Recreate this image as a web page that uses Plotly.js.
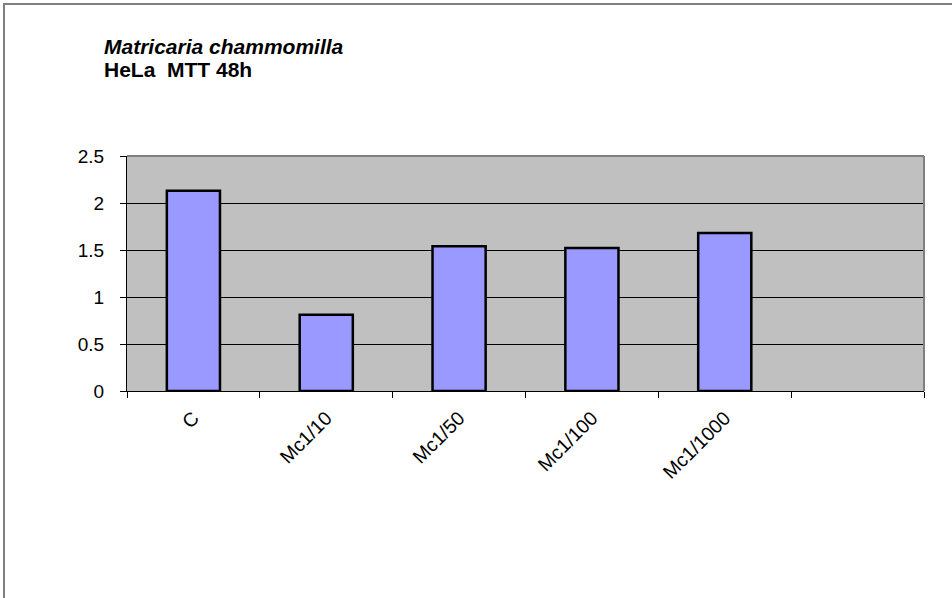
<!DOCTYPE html>
<html>
<head>
<meta charset="utf-8">
<script src="https://cdn.plot.ly/plotly-3.0.1.min.js"></script>
<style>
html,body{margin:0;padding:0;background:#fff;}
#chart{width:952px;height:598px;}
#frame{position:absolute;left:3px;top:3px;width:960px;height:610px;border-left:2px solid #808080;border-top:2px solid #808080;pointer-events:none;}
</style>
</head>
<body>
<div id="chart"></div>
<div id="frame"></div>
<script>
var categories = ['C', 'Mc1/10', 'Mc1/50', 'Mc1/100', 'Mc1/1000'];
var values = [2.13, 0.81, 1.54, 1.52, 1.68];
var axisSlots = ['C', 'Mc1/10', 'Mc1/50', 'Mc1/100', 'Mc1/1000', ' '];
var yTicks = [0, 0.5, 1, 1.5, 2, 2.5];
var yTickText = ['0', '0.5', '1', '1.5', '2', '2.5'];
var titleLine1 = 'Matricaria chammomilla';
var titleLine2 = 'HeLa\u00A0\u00A0MTT 48h';

var trace = {
  type: 'bar',
  x: categories,
  y: values,
  marker: {color: '#9999FF', line: {color: '#000000', width: 2.5}},
  hoverinfo: 'x+y'
};

var titleFont = {family: 'Liberation Sans, Arial, sans-serif', size: 21, color: '#000'};

var layout = {
  width: 952,
  height: 598,
  paper_bgcolor: '#ffffff',
  plot_bgcolor: '#C0C0C0',
  margin: {l: 127, r: 28, t: 156, b: 207, pad: 0},
  showlegend: false,
  bargap: 0.6,
  font: {family: 'Liberation Sans, Arial, sans-serif', color: '#000', size: 16},
  annotations: [
    {text: '<b><i>' + titleLine1 + '</i></b>', xref: 'paper', yref: 'paper',
     x: (102 - 127) / 797, y: (391 - 46) / 235, xanchor: 'left', yanchor: 'middle',
     showarrow: false, font: titleFont},
    {text: '<b>' + titleLine2 + '</b>', xref: 'paper', yref: 'paper',
     x: (102 - 127) / 797, y: (391 - 69) / 235, xanchor: 'left', yanchor: 'middle',
     showarrow: false, font: titleFont}
  ],
  xaxis: {
    type: 'category',
    categoryorder: 'array',
    categoryarray: axisSlots,
    range: [-0.5, 5.5],
    tickson: 'boundaries',
    ticks: 'outside',
    ticklen: 6,
    tickcolor: '#000',
    tickangle: -45,
    showline: true,
    linecolor: '#000',
    linewidth: 1,
    showgrid: false,
    zeroline: false,
    ticklabelstandoff: 7,
    tickfont: {size: 19.5}
  },
  yaxis: {
    range: [0, 2.5],
    tickvals: yTicks,
    ticktext: yTickText,
    ticks: 'outside',
    ticklen: 6,
    tickcolor: '#000',
    showline: true,
    linecolor: '#000',
    linewidth: 1,
    showgrid: true,
    gridcolor: '#000',
    gridwidth: 1,
    zeroline: false,
    ticklabelstandoff: 12,
    tickfont: {size: 19}
  },
  shapes: [
    {type: 'line', xref: 'paper', yref: 'paper', x0: 0, x1: 1, y0: 1, y1: 1, line: {color: '#808080', width: 2}},
    {type: 'line', xref: 'paper', yref: 'paper', x0: 1, x1: 1, y0: 0, y1: 1, line: {color: '#808080', width: 2}}
  ]
};

Plotly.newPlot('chart', [trace], layout, {staticPlot: true, displayModeBar: false});
</script>
</body>
</html>
